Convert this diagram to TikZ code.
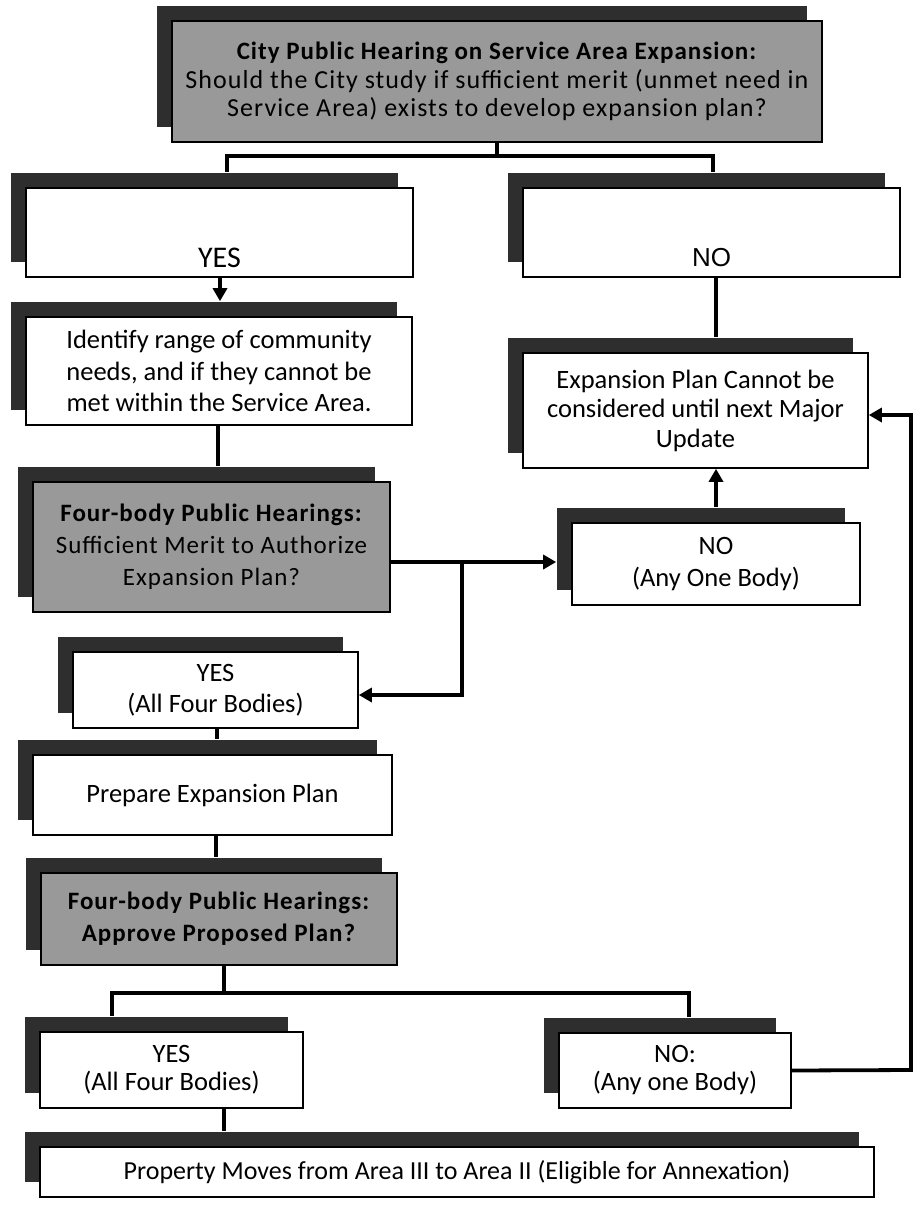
\documentclass[tikz,border=0pt]{standalone}
\usepackage{fontspec}
\setmainfont{Carlito}
\newfontfamily\grayfont[LetterSpace=4]{Carlito}
\newfontfamily\arialf{Liberation Sans}
\usetikzlibrary{arrows.meta,shadows,calc}
\begin{document}
\begin{tikzpicture}[x=1pt,y=1pt,
  box/.style={draw=black, line width=1.6pt, fill=white, align=center, inner sep=0pt,
    drop shadow={shadow xshift=-15pt, shadow yshift=15pt, fill=black!82, opacity=1},
    font=\fontsize{26.5}{31.5}\selectfont},
  graybox/.style={box, fill=black!40, font=\grayfont\fontsize{25}{32}\selectfont},
  conn/.style={line width=3.8pt},
  arr/.style={conn, -{Triangle[length=13pt,width=14pt]}},
]
\useasboundingbox (0,0) rectangle (916,-1216);

\node[graybox, minimum width=650, minimum height=121, font=\grayfont\fontsize{26}{28.5}\selectfont] (top) at (497,-81.5)
  {{\fontsize{25}{28.5}\selectfont\textbf{City Public Hearing on Service Area Expansion:}}\\Should the City study if sufficient merit (unmet need in\\Service Area) exists to develop expansion plan?};
\node[box, minimum width=387, minimum height=89, font=\fontsize{30}{36}\selectfont,
  text height=70pt, text depth=0pt] (yes) at (219.5,-232.5) {YES};
\node[box, minimum width=377, minimum height=89, font=\arialf\fontsize{26}{31}\selectfont,
  text height=68pt, text depth=0pt] (no) at (711.5,-232.5) {NO};
\node[box, minimum width=386, minimum height=108] (ident) at (219,-371)
  {Identify range of community\\needs, and if they cannot be\\met within the Service Area.};
\node[box, minimum width=345, minimum height=115, font=\fontsize{26.5}{29.5}\selectfont] (exp) at (695.5,-410.5)
  {Expansion Plan Cannot be\\considered until next Major\\Update};
\node[graybox, minimum width=357, minimum height=130] (fb1) at (211.5,-547)
  {\textbf{Four-body Public Hearings:}\\Sufficient Merit to Authorize\\Expansion Plan?};
\node[box, minimum width=288, minimum height=82] (noany) at (716,-564)
  {NO\\(Any One Body)};
\node[box, minimum width=285, minimum height=76] (yesall) at (215.5,-690)
  {YES\\(All Four Bodies)};
\node[box, minimum width=359, minimum height=80] (prep) at (212.5,-795)
  {Prepare Expansion Plan};
\node[graybox, minimum width=356, minimum height=92] (fb2) at (219,-919)
  {\textbf{Four-body Public Hearings:}\\\textbf{Approve Proposed Plan?}};
\node[box, minimum width=263, minimum height=76, font=\fontsize{26.5}{28}\selectfont] (yes2) at (171.5,-1070)
  {YES\\(All Four Bodies)};
\node[box, minimum width=232, minimum height=75, font=\fontsize{26.5}{28}\selectfont] (no2) at (675,-1070.5)
  {NO:\\(Any one Body)};
\node[box, minimum width=834, minimum height=50, font=\fontsize{26}{30}\selectfont] (final) at (457,-1172)
  {Property Moves from Area III to Area II (Eligible for Annexation)};

% top bracket
\coordinate (brL) at (227,-156);
\coordinate (brR) at (713,-156);
\draw[conn] (top.south) -- (top.south |- brL);
\draw[conn, line cap=rect] (brL) -- (brR);
\draw[conn] (brL) -- ($(brL |- yes.north)+(0,15)$);
\draw[conn] (brR) -- ($(brR |- no.north)+(0,15)$);

\draw[arr] ([xshift=0.5pt]yes.south) -- ($(yes.south |- ident.north)+(0.5,15)$);
\draw[conn] (no.south -| noany.north) -- ($(exp.north -| noany.north)+(0,15)$);
\draw[conn] ([xshift=-1pt]ident.south) -- ($(ident.south |- fb1.north)+(-1,15)$);

\coordinate (fbo) at ([yshift=-15pt]fb1.east);
\coordinate (j) at ($(fbo)+(71,0)$);
\draw[arr] (fbo) -- ($(fbo -| noany.west)+(-15,0)$);
\draw[arr] (j) |- ([yshift=-5pt]yesall.east);
\draw[arr] ($(noany.north)+(0,15)$) -- (noany.north |- exp.south);

\draw[conn] ([xshift=1.5pt]yesall.south) -- ($(yesall.south |- prep.north)+(1.5,15)$);
\draw[conn] ([xshift=3.5pt]prep.south) -- ($(prep.south |- fb2.north)+(3.5,15)$);

% bottom bracket
\coordinate (b2) at ($(fb2.south)+(5,-28)$);
\coordinate (b2L) at (112,-993);
\coordinate (b2R) at (689,-993);
\draw[conn] ([xshift=5pt]fb2.south) -- (b2);
\draw[conn, line cap=rect] (b2L) -- (b2R);
\draw[conn] (b2L) -- ($(b2L |- yes2.north)+(0,15)$);
\draw[conn] (b2R) -- ($(b2R |- no2.north)+(0,15)$);
\draw[conn] (yes2.south -| b2) -- ($(b2 |- final.north)+(0,15)$);

% loop back
\coordinate (lp) at (911,-1070);
\draw[arr] (no2.east) -- (lp) |- ([yshift=-4.5pt]exp.east);
\end{tikzpicture}
\end{document}
